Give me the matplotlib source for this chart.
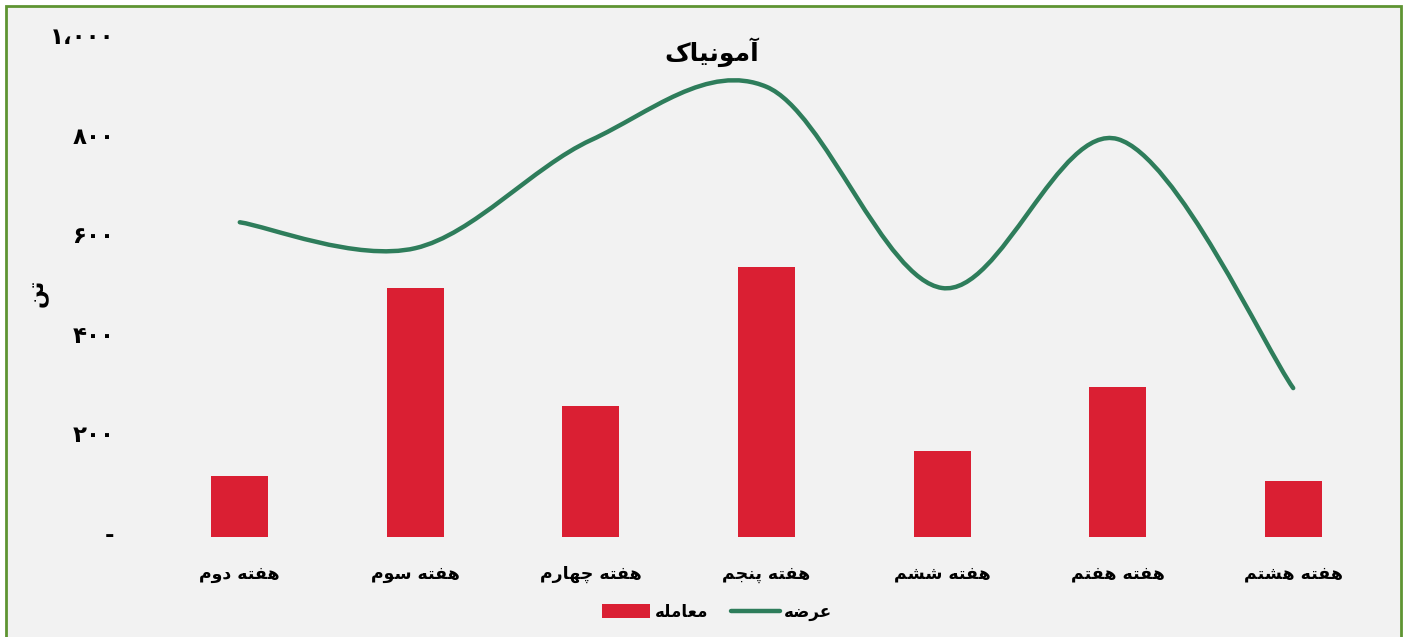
import matplotlib
matplotlib.use("Agg")
import matplotlib.pyplot as plt
import matplotlib.transforms as mtransforms
from matplotlib.path import Path
from matplotlib.patches import PathPatch, Rectangle, Patch
from matplotlib.lines import Line2D
import numpy as np

# ---------------- data ----------------
categories = ["هفته دوم", "هفته سوم", "هفته چهارم", "هفته پنجم",
              "هفته ششم", "هفته هفتم", "هفته هشتم"]
trade = [122, 500, 263, 542, 173, 301, 112]        # معامله
supply = [632, 580, 797, 904, 500, 799, 299]       # عرضه
y_ticks = [0, 200, 400, 600, 800, 1000]
y_tick_labels = ["-", "۲۰۰", "۴۰۰", "۶۰۰", "۸۰۰", "۱،۰۰۰"]
title_text = "آمونیاک"
y_label_text = "تن"
legend_trade = "معامله"
legend_supply = "عرضه"

# ------------- minimal Persian shaping (presentation forms + RTL) -------------
FORMS = {
    # char: (isolated, final, initial, medial)  None initial/medial => right-joining only
    "آ": ("\uFE81", "\uFE82", None, None),
    "ا": ("\uFE8D", "\uFE8E", None, None),
    "و": ("\uFEED", "\uFEEE", None, None),
    "د": ("\uFEA9", "\uFEAA", None, None),
    "ر": ("\uFEAD", "\uFEAE", None, None),
    "م": ("\uFEE1", "\uFEE2", "\uFEE3", "\uFEE4"),
    "ن": ("\uFEE5", "\uFEE6", "\uFEE7", "\uFEE8"),
    "ی": ("\uFBFC", "\uFBFD", "\uFBFE", "\uFBFF"),
    "ک": ("\uFB8E", "\uFB8F", "\uFB90", "\uFB91"),
    "ه": ("\uFEE9", "\uFEEA", "\uFEEB", "\uFEEC"),
    "ف": ("\uFED1", "\uFED2", "\uFED3", "\uFED4"),
    "ت": ("\uFE95", "\uFE96", "\uFE97", "\uFE98"),
    "س": ("\uFEB1", "\uFEB2", "\uFEB3", "\uFEB4"),
    "چ": ("\uFB7A", "\uFB7B", "\uFB7C", "\uFB7D"),
    "پ": ("\uFB56", "\uFB57", "\uFB58", "\uFB59"),
    "ج": ("\uFE9D", "\uFE9E", "\uFE9F", "\uFEA0"),
    "ش": ("\uFEB5", "\uFEB6", "\uFEB7", "\uFEB8"),
    "ع": ("\uFEC9", "\uFECA", "\uFECB", "\uFECC"),
    "ض": ("\uFEBD", "\uFEBE", "\uFEBF", "\uFEC0"),
    "ل": ("\uFEDD", "\uFEDE", "\uFEDF", "\uFEE0"),
}


def dual(c):
    return c in FORMS and FORMS[c][2] is not None


def shape(text):
    out = []
    n = len(text)
    for i, c in enumerate(text):
        if c not in FORMS:
            out.append(c)
            continue
        prev = text[i - 1] if i > 0 else ""
        nxt = text[i + 1] if i < n - 1 else ""
        join_prev = dual(prev)
        join_next = dual(c) and nxt in FORMS
        iso, fin, ini, med = FORMS[c]
        if join_prev and join_next:
            out.append(med)
        elif join_prev:
            out.append(fin)
        elif join_next:
            out.append(ini)
        else:
            out.append(iso)
    return "".join(out)[::-1]


# ---------------- figure ----------------
W, H, DPI = 1405, 637, 100
fig = plt.figure(figsize=(W / DPI, H / DPI), dpi=DPI, facecolor="white")
bg = "#F2F2F2"
fig.patches.append(Rectangle((6 / W, -0.05), (1401 - 6) / W, 1 - 6 / H + 0.05,
                             transform=fig.transFigure, facecolor=bg,
                             edgecolor="#5E9432", linewidth=2.0, zorder=-10))

ax_left, ax_right = 152, 1381
ax_bottom, ax_top = 537, 39
ax = fig.add_axes([ax_left / W, 1 - ax_bottom / H,
                   (ax_right - ax_left) / W, (ax_bottom - ax_top) / H])
ax.set_zorder(1)
ax.set_facecolor("none")

x = np.arange(len(categories))
bar_color = "#DA1F33"
line_color = "#2E7D5B"
ax.bar(x, trade, width=0.325, color=bar_color, zorder=2)

# smooth line (Catmull-Rom converted to cubic Bezier, like Excel's smoothed line)
pts = np.column_stack([x, supply]).astype(float)
verts = [tuple(pts[0])]
codes = [Path.MOVETO]
for i in range(len(pts) - 1):
    p0 = pts[i - 1] if i > 0 else pts[i]
    p1 = pts[i]
    p2 = pts[i + 1]
    p3 = pts[i + 2] if i + 2 < len(pts) else pts[i + 1]
    c1 = p1 + (p2 - p0) / 6.0
    c2 = p2 - (p3 - p1) / 6.0
    verts += [tuple(c1), tuple(c2), tuple(p2)]
    codes += [Path.CURVE4] * 3
ax.add_patch(PathPatch(Path(verts, codes), fill=False, edgecolor=line_color,
                       linewidth=3.2, capstyle="round", joinstyle="round", zorder=3))

ax.set_xlim(-0.5, len(categories) - 0.5)
ax.set_ylim(0, 1000)
ax.set_yticks(y_ticks)
ax.set_yticklabels(y_tick_labels)
ax.set_xticks(x)
ax.set_xticklabels([shape(c) for c in categories])
for s in ax.spines.values():
    s.set_visible(False)
ax.tick_params(axis="both", length=0)
ax.tick_params(axis="y", pad=27)
ax.tick_params(axis="x", pad=20)
up = mtransforms.ScaledTranslation(0, 4 / DPI, fig.dpi_scale_trans)
for lab in ax.get_yticklabels():
    lab.set_fontsize(16.5)
    lab.set_fontweight("bold")
    lab.set_family("DejaVu Sans")
    lab.set_transform(lab.get_transform() + up)
for lab in ax.get_xticklabels():
    lab.set_fontsize(12.5)
    lab.set_fontweight("bold")
    lab.set_family("DejaVu Sans")

fig.text(712 / W, 1 - 52 / H, shape(title_text), ha="center", va="center",
         fontsize=18, fontweight="bold", family="DejaVu Sans")
fig.text(39 / W, 1 - 293 / H, shape(y_label_text), ha="center", va="center",
         rotation=90, fontsize=16, fontweight="bold", family="DejaVu Sans")

handles = [Patch(facecolor=bar_color, edgecolor="none"),
           Line2D([0], [0], color=line_color, linewidth=3.2, solid_capstyle="round")]
leg = fig.legend(handles, [shape(legend_trade), shape(legend_supply)],
                 loc="center", bbox_to_anchor=(717 / W, 1 - 612 / H), ncol=2,
                 frameon=False, handlelength=2.9, handleheight=0.9,
                 columnspacing=1.4, handletextpad=0.25,
                 prop={"family": "DejaVu Sans", "weight": "bold", "size": 12})

fig.savefig("out.png", dpi=DPI, facecolor="white")
